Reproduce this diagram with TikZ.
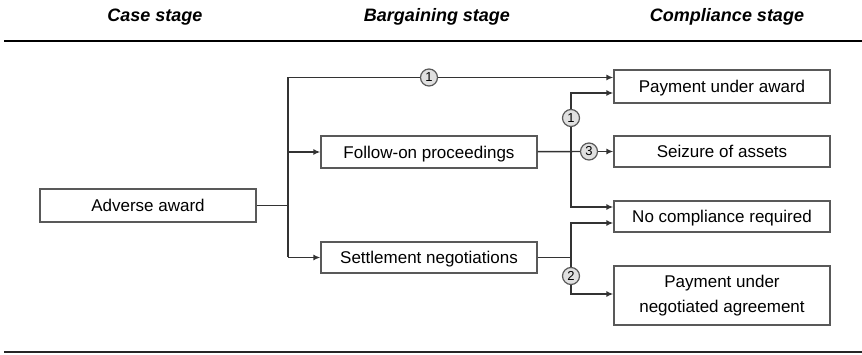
\documentclass[tikz,border=0pt]{standalone}
\usepackage{fontspec}
\setmainfont{Liberation Sans}
\usetikzlibrary{arrows.meta}
\begin{document}
\begin{tikzpicture}
        [x=1pt, y=-1pt, line width=1.4pt, draw=black!80, >={Latex[length=7pt,width=6pt]},
        box/.style={rectangle, draw=black!65, line width=1.3pt, fill=white, minimum width=216pt, minimum height=32pt, inner sep=0pt, align=center, text depth=0pt, font=\fontsize{17}{20}\selectfont},
        num/.style={circle, draw=black!65, line width=1.2pt, fill=black!12, minimum size=17pt, inner sep=0pt, font=\fontsize{13}{13}\selectfont},
        stage/.style={font=\fontsize{18}{20}\selectfont\bfseries\itshape}]
        \useasboundingbox (0,0) rectangle (862,355);
        \node[stage] (S1) at (155,17) {Case stage};
        \node[stage] (S2) at (437,17) {Bargaining stage};
        \node[stage] (S3) at (727,17) {Compliance stage};
        \draw[line width=2pt, black] (4,41.5) -- (862,41.5);
        \draw[line width=2pt, black!85] (4,352) -- (862,352);
        
        \node[box, minimum height=33pt] (award) at (148,205.5) {Adverse award};
        \node[box] (follow) at (429,152) {Follow-on proceedings};
        \node[box, minimum height=31pt] (settle) at (429,257.5) {Settlement negotiations};
        \node[box, minimum height=33pt] (payaward) at (722,86.5) {Payment under award};
        \node[box, minimum height=31pt] (seizure) at (722,151.5) {Seizure of assets};
        \node[box, minimum height=31pt] (nocomp) at (722,216.5) {No compliance required};
        \node[box, minimum height=59pt, text depth=4pt, font=\fontsize{17}{25}\selectfont] (paynego) at (722,295.5) {Payment under\\negotiated agreement};
        
        \coordinate (jA) at (288,205.5);
        \coordinate (jTop) at (288,77.5);
        \coordinate (jBot) at (288,257.5);
        \coordinate (vT) at (571,93);
        \coordinate (vM) at (571,207);
        \coordinate (sJ) at (571,257.5);
        \coordinate (sT) at (571,223);
        \coordinate (sB) at (571,294);
        
        \node[num] (n1a) at (429,77.5) {1};
        \node[num] (n1b) at (571,118) {1};
        \node[num] (n3) at (589,151.5) {3};
        \node[num] (n2) at (571,276) {2};
        
        \draw (award) -- (jA);
        \draw (jTop) -- (jBot);
        \draw (jTop) -- (n1a);
        \draw[->] (n1a) -- (n1a -| payaward.west);
        \draw[->] (jTop |- follow) -- (follow);
        \draw[->] (jBot) -- (settle);
        
        \draw (follow) -- (n3);
        \draw[->] (n3) -- (seizure);
        \draw[->] (n1b) |- (payaward.west |- vT);
        \draw[->] (n1b) |- (nocomp.west |- vM);
        
        \draw (settle) -- (sJ);
        \draw[->] (sJ) |- (nocomp.west |- sT);
        \draw (sJ) -- (n2);
        \draw[->] (n2) |- (paynego.west |- sB);
    \end{tikzpicture}
\end{document}
